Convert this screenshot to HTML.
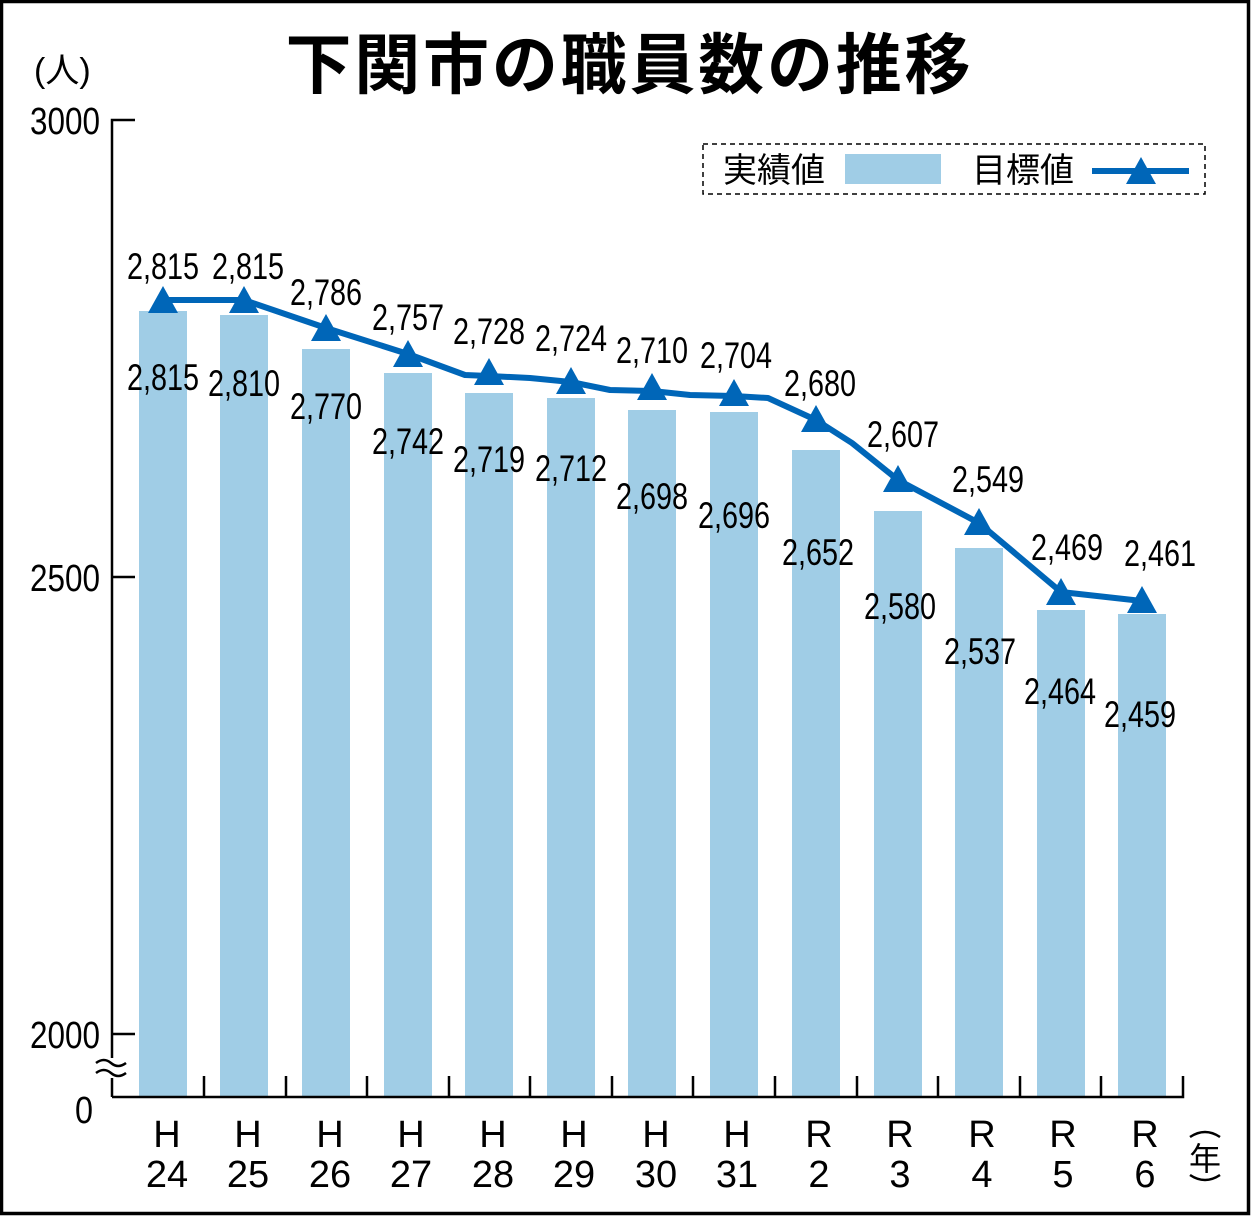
<!DOCTYPE html>
<html><head><meta charset="utf-8"><style>
html,body{margin:0;padding:0;background:#fff}
svg{display:block}
text{font-family:"Liberation Sans","Noto Sans CJK JP",sans-serif;fill:#000}
</style></head><body>
<svg width="1252" height="1217" viewBox="0 0 1252 1217" xmlns="http://www.w3.org/2000/svg">
<rect x="1.5" y="1.5" width="1247" height="1212" fill="#fff" stroke="#000" stroke-width="3.5"/>
<text x="628" y="88" font-size="66" font-weight="bold" text-anchor="middle" font-family="'Noto Sans CJK JP',sans-serif" textLength="685">下関市の職員数の推移</text>
<text x="34" y="82" font-size="34" font-family="'Noto Sans CJK JP',sans-serif">(人)</text>
<g font-size="38" text-anchor="end">
<text x="100" y="134" textLength="70" lengthAdjust="spacingAndGlyphs">3000</text>
<text x="100" y="591" textLength="70" lengthAdjust="spacingAndGlyphs">2500</text>
<text x="100" y="1048" textLength="70" lengthAdjust="spacingAndGlyphs">2000</text>
<text x="93" y="1123" textLength="18" lengthAdjust="spacingAndGlyphs">0</text>
</g>
<g fill="#a0cde6">
<rect x="139" y="311" width="48" height="786"/>
<rect x="220" y="315" width="48" height="782"/>
<rect x="302" y="349" width="48" height="748"/>
<rect x="384" y="373" width="48" height="724"/>
<rect x="465" y="393" width="48" height="704"/>
<rect x="547" y="398" width="48" height="699"/>
<rect x="628" y="410" width="48" height="687"/>
<rect x="710" y="412" width="48" height="685"/>
<rect x="792" y="450" width="48" height="647"/>
<rect x="874" y="511" width="48" height="586"/>
<rect x="955" y="548" width="48" height="549"/>
<rect x="1037" y="610" width="48" height="487"/>
<rect x="1118" y="614" width="48" height="483"/>
</g>
<g stroke="#000" stroke-width="2.5" fill="none">
<path d="M112 1097V120H135M112 577H135M112 1034H135M112 1097H1183V1076"/>
<path d="M204 1097V1076M286 1097V1076M367 1097V1076M449 1097V1076M530 1097V1076M612 1097V1076M693 1097V1076M775 1097V1076M857 1097V1076M938 1097V1076M1020 1097V1076M1101 1097V1076"/>
</g>
<rect x="105" y="1058" width="16" height="20" fill="#fff"/>
<path d="M96 1063q8-6 15 0t15 0M96 1073q8-6 15 0t15 0" stroke="#000" stroke-width="2.5" fill="none"/>
<polyline fill="none" stroke="#0066b8" stroke-width="6" stroke-linejoin="round" points="163,300 244,300 326,328 408,354 465,375 489,376 530,378 571,382 610,390 652,391 690,395 734,396 768,398 816,420 852,443 898,480 979,523 1061,592 1142,601"/>
<g fill="#0066b8">
<path d="M163 286l15 27h-30z"/><path d="M244 286l15 27h-30z"/><path d="M326 314l15 27h-30z"/><path d="M408 340l15 27h-30z"/><path d="M489 358l15 27h-30z"/><path d="M571 367l15 27h-30z"/><path d="M652 373l15 27h-30z"/><path d="M734 379l15 27h-30z"/><path d="M816 405l15 27h-30z"/><path d="M898 465l15 27h-30z"/><path d="M979 508l15 27h-30z"/><path d="M1061 578l15 27h-30z"/><path d="M1142 586l15 27h-30z"/>
</g>
<g font-size="37" text-anchor="middle">
<text x="163" y="279" textLength="72" lengthAdjust="spacingAndGlyphs">2,815</text>
<text x="248" y="279" textLength="72" lengthAdjust="spacingAndGlyphs">2,815</text>
<text x="326" y="305" textLength="72" lengthAdjust="spacingAndGlyphs">2,786</text>
<text x="408" y="330" textLength="72" lengthAdjust="spacingAndGlyphs">2,757</text>
<text x="489" y="344" textLength="72" lengthAdjust="spacingAndGlyphs">2,728</text>
<text x="571" y="351" textLength="72" lengthAdjust="spacingAndGlyphs">2,724</text>
<text x="652" y="363" textLength="72" lengthAdjust="spacingAndGlyphs">2,710</text>
<text x="736" y="368" textLength="72" lengthAdjust="spacingAndGlyphs">2,704</text>
<text x="820" y="396" textLength="72" lengthAdjust="spacingAndGlyphs">2,680</text>
<text x="903" y="447" textLength="72" lengthAdjust="spacingAndGlyphs">2,607</text>
<text x="988" y="492" textLength="72" lengthAdjust="spacingAndGlyphs">2,549</text>
<text x="1067" y="560" textLength="72" lengthAdjust="spacingAndGlyphs">2,469</text>
<text x="1160" y="566" textLength="72" lengthAdjust="spacingAndGlyphs">2,461</text>
<text x="163" y="390" textLength="72" lengthAdjust="spacingAndGlyphs">2,815</text>
<text x="244" y="396" textLength="72" lengthAdjust="spacingAndGlyphs">2,810</text>
<text x="326" y="419" textLength="72" lengthAdjust="spacingAndGlyphs">2,770</text>
<text x="408" y="454" textLength="72" lengthAdjust="spacingAndGlyphs">2,742</text>
<text x="489" y="472" textLength="72" lengthAdjust="spacingAndGlyphs">2,719</text>
<text x="571" y="481" textLength="72" lengthAdjust="spacingAndGlyphs">2,712</text>
<text x="652" y="509" textLength="72" lengthAdjust="spacingAndGlyphs">2,698</text>
<text x="734" y="528" textLength="72" lengthAdjust="spacingAndGlyphs">2,696</text>
<text x="818" y="565" textLength="72" lengthAdjust="spacingAndGlyphs">2,652</text>
<text x="900" y="619" textLength="72" lengthAdjust="spacingAndGlyphs">2,580</text>
<text x="980" y="664" textLength="72" lengthAdjust="spacingAndGlyphs">2,537</text>
<text x="1060" y="704" textLength="72" lengthAdjust="spacingAndGlyphs">2,464</text>
<text x="1140" y="727" textLength="72" lengthAdjust="spacingAndGlyphs">2,459</text>
</g>
<g font-size="38" text-anchor="middle">
<text x="167" y="1147">H</text><text x="167" y="1187">24</text>
<text x="248" y="1147">H</text><text x="248" y="1187">25</text>
<text x="330" y="1147">H</text><text x="330" y="1187">26</text>
<text x="411" y="1147">H</text><text x="411" y="1187">27</text>
<text x="493" y="1147">H</text><text x="493" y="1187">28</text>
<text x="574" y="1147">H</text><text x="574" y="1187">29</text>
<text x="656" y="1147">H</text><text x="656" y="1187">30</text>
<text x="737" y="1147">H</text><text x="737" y="1187">31</text>
<text x="819" y="1147">R</text><text x="819" y="1187">2</text>
<text x="900" y="1147">R</text><text x="900" y="1187">3</text>
<text x="982" y="1147">R</text><text x="982" y="1187">4</text>
<text x="1063" y="1147">R</text><text x="1063" y="1187">5</text>
<text x="1145" y="1147">R</text><text x="1145" y="1187">6</text>
</g>
<path d="M1190 1137q15-10 30 0M1190 1175q15 10 30 0" stroke="#000" stroke-width="2.5" fill="none"/>
<text x="1205" y="1170" font-size="32" text-anchor="middle" font-family="'Noto Sans CJK JP',sans-serif">年</text>
<rect x="703" y="144" width="502" height="50" fill="#fff" stroke="#000" stroke-width="1.5" stroke-dasharray="5,4"/>
<text x="723" y="182" font-size="34" font-family="'Noto Sans CJK JP',sans-serif">実績値</text>
<rect x="845" y="154" width="96" height="30" fill="#a0cde6"/>
<text x="972" y="182" font-size="34" font-family="'Noto Sans CJK JP',sans-serif">目標値</text>
<line x1="1092" y1="171" x2="1189" y2="171" stroke="#0066b8" stroke-width="6"/>
<path d="M1141 157l15 27h-30z" fill="#0066b8"/>
</svg>
</body></html>
